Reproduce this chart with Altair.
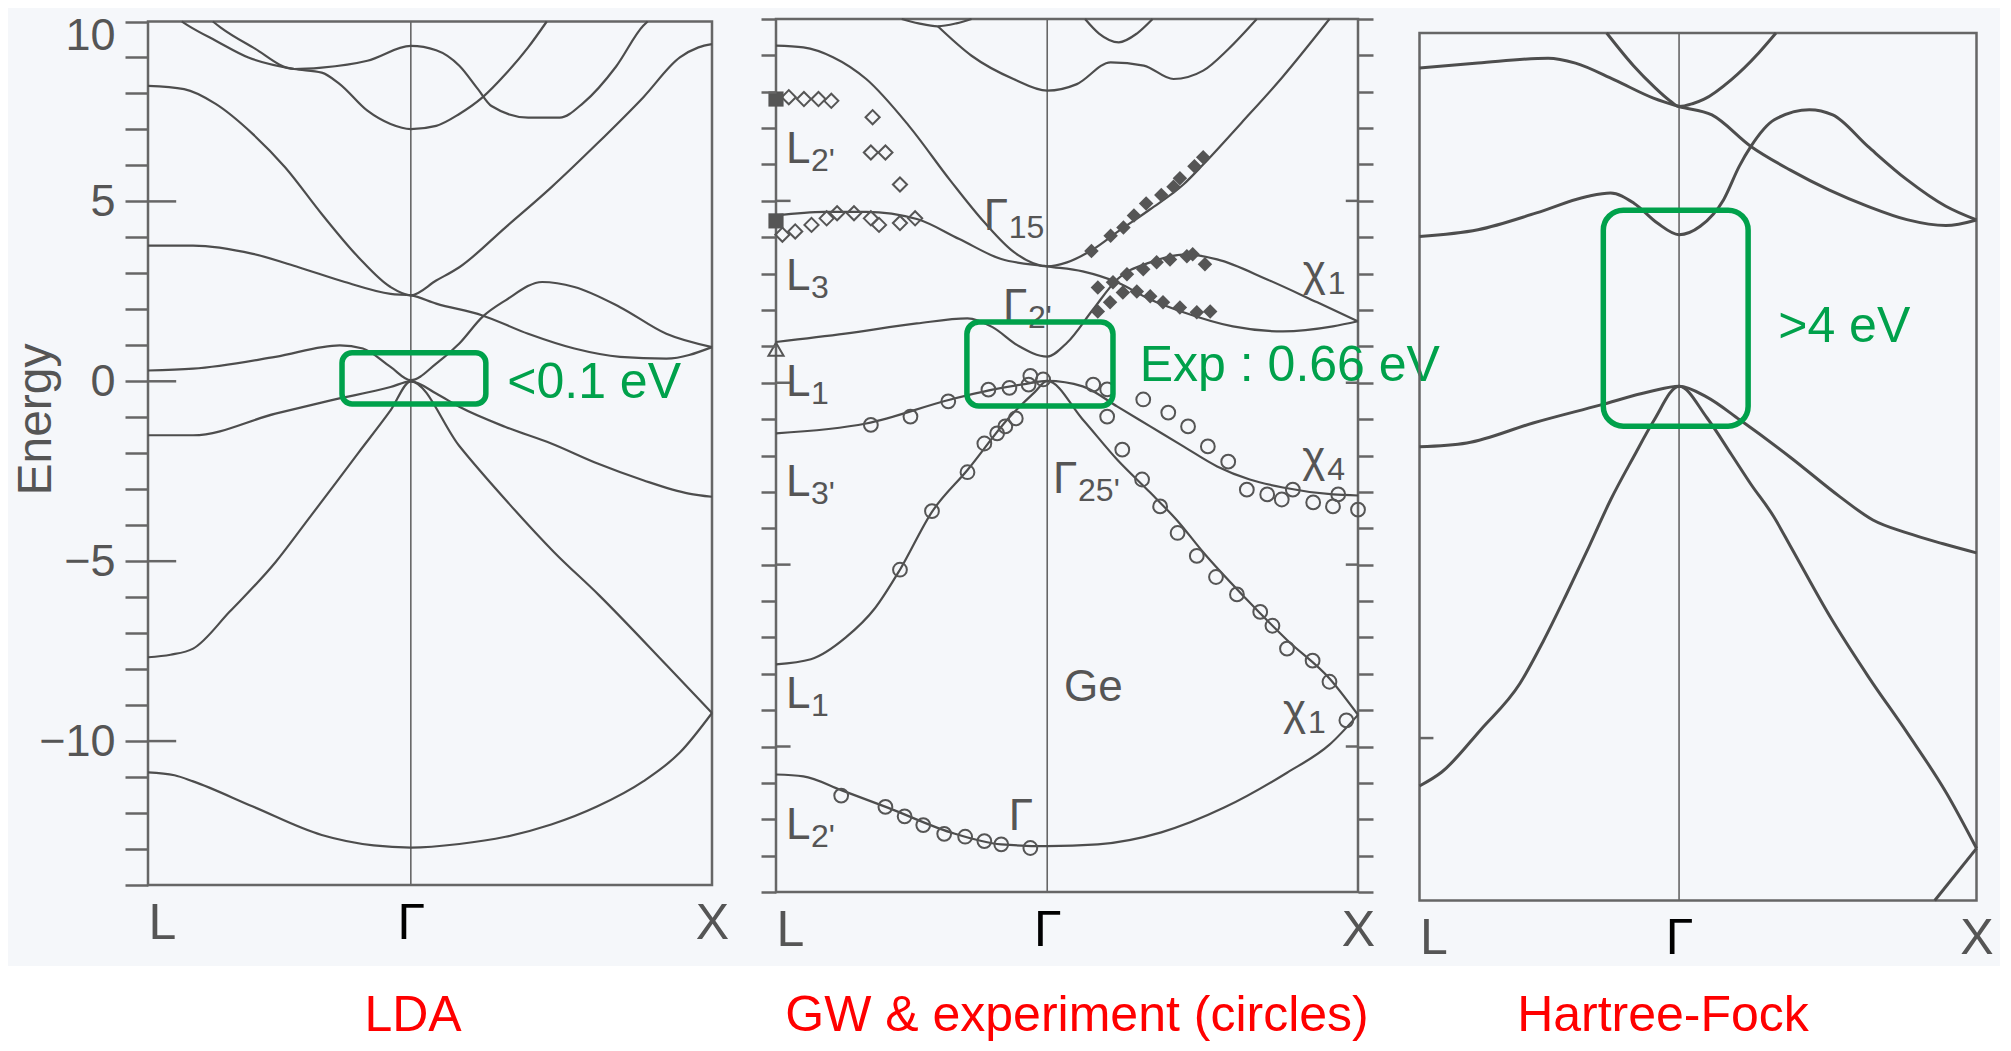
import altair as alt
import pandas as pd

FONT = "Liberation Sans"
GREY = "#555555"
LINE = "#4d4d4d"
FRAME = "#666666"
GREEN = "#00a14b"
RED = "#ff0000"
TINT = "#f5f7fa"
W, H = 1992, 1034

GAMMA = 0.466  # position of Gamma along the L-Gamma-X path (fraction)

# ---------------- LDA bands: (k fraction along L-Γ-X, energy eV) ----------------
LDA_V1 = [(0.0, -10.87), (0.047, -10.95), (0.08, -11.12), (0.186, -11.82), (0.308, -12.61), (0.40, -12.9),
          (0.466, -12.96), (0.552, -12.86), (0.634, -12.66), (0.715, -12.32), (0.796, -11.82), (0.878, -11.12),
          (0.943, -10.32), (1.0, -9.22)]
LDA_V2 = [(0.0, -7.67), (0.04, -7.6), (0.08, -7.43), (0.145, -6.4), (0.226, -5.03), (0.283, -3.86), (0.373, -1.99),
          (0.43, -0.81), (0.466, 0.0), (0.552, -1.8), (0.64, -3.4), (0.72, -4.75), (0.80, -5.95), (0.92, -7.9),
          (1.0, -9.22)]
LDA_V3 = [(0.0, -1.5), (0.08, -1.5), (0.226, -0.9), (0.324, -0.53), (0.43, -0.16), (0.466, 0.0), (0.511, -0.34),
          (0.552, -0.71), (0.634, -1.27), (0.715, -1.73), (0.796, -2.28), (0.878, -2.75), (0.959, -3.12), (1.0, -3.21)]
LDA_C1 = [(0.0, 0.3), (0.08, 0.35), (0.226, 0.68), (0.34, 1.0), (0.381, 0.91), (0.43, 0.4), (0.466, 0.03),
          (0.511, 0.49), (0.552, 1.05), (0.593, 1.79), (0.634, 2.25), (0.699, 2.76), (0.756, 2.62), (0.837, 2.06),
          (0.919, 1.32), (1.0, 0.95)]
LDA_C2 = [(0.0, 3.77), (0.08, 3.77), (0.186, 3.54), (0.267, 3.17), (0.349, 2.76), (0.43, 2.43), (0.466, 2.39),
          (0.511, 2.16), (0.593, 1.83), (0.674, 1.32), (0.756, 0.91), (0.837, 0.68), (0.919, 0.63), (1.0, 0.95)]
LDA_C3 = [(0.0, 8.21), (0.064, 8.12), (0.12, 7.71), (0.186, 6.87), (0.243, 5.95), (0.308, 4.65), (0.373, 3.45),
          (0.43, 2.62), (0.466, 2.39), (0.511, 2.8), (0.552, 3.17), (0.634, 4.28), (0.715, 5.39), (0.796, 6.6),
          (0.878, 7.89), (0.943, 9.0), (0.976, 9.28), (1.0, 9.37)]
LDA_C4 = [(0.06, 10.0), (0.072, 9.88), (0.121, 9.46), (0.178, 9.0), (0.259, 8.68), (0.308, 8.58), (0.34, 8.26),
          (0.389, 7.52), (0.43, 7.15), (0.466, 7.01), (0.511, 7.1), (0.552, 7.43), (0.593, 7.89), (0.634, 8.54),
          (0.674, 9.28), (0.707, 10.0)]
LDA_C5 = [(0.115, 10.0), (0.129, 9.83), (0.186, 9.28), (0.259, 8.68), (0.308, 8.72), (0.389, 8.91), (0.466, 9.32),
          (0.511, 9.2), (0.552, 8.77), (0.585, 8.12), (0.609, 7.65), (0.674, 7.33), (0.73, 7.33), (0.772, 7.74),
          (0.83, 8.75), (0.878, 9.88), (0.886, 10.0)]

# ---------------- GW bands ----------------
GW_V1 = [(0.0, -10.77), (0.047, -10.82), (0.112, -11.2), (0.192, -11.68), (0.3, -12.36), (0.387, -12.69),
         (0.466, -12.74), (0.553, -12.69), (0.662, -12.36), (0.77, -11.68), (0.878, -10.72), (0.951, -9.95),
         (1.0, -9.13)]
GW_V2 = [(0.0, -7.74), (0.06, -7.6), (0.12, -7.0), (0.17, -6.2), (0.213, -5.14), (0.268, -3.55), (0.329, -2.4),
         (0.401, -0.95), (0.445, -0.25), (0.466, 0.05), (0.527, -1.01), (0.586, -2.11), (0.643, -3.02),
         (0.69, -3.8), (0.734, -4.66), (0.806, -5.91), (0.878, -7.07), (0.951, -8.13), (1.0, -9.13)]
GW_V3 = [(0.0, -1.39), (0.155, -1.12), (0.3, -0.46), (0.372, -0.19), (0.43, -0.03), (0.466, 0.05), (0.527, -0.1),
         (0.586, -0.65), (0.643, -1.2), (0.7, -1.75), (0.758, -2.3), (0.814, -2.66), (0.871, -2.88), (0.957, -3.07),
         (1.0, -3.1)]
GW_C1 = [(0.0, 1.12), (0.119, 1.35), (0.242, 1.63), (0.329, 1.77), (0.372, 1.53), (0.416, 1.02), (0.466, 0.72),
         (0.5, 1.1), (0.545, 2.02), (0.586, 2.84), (0.643, 3.31), (0.706, 3.53), (0.758, 3.39), (0.844, 2.84),
         (0.93, 2.21), (1.0, 1.69)]
GW_C2 = [(0.0, 4.6), (0.083, 4.7), (0.155, 4.7), (0.242, 4.5), (0.315, 3.95), (0.387, 3.4), (0.466, 3.2),
         (0.527, 3.06), (0.586, 2.76), (0.643, 2.29), (0.7, 1.94), (0.785, 1.55), (0.871, 1.41), (0.957, 1.55),
         (1.0, 1.69)]
GW_C3 = [(0.0, 9.27), (0.047, 9.22), (0.098, 8.95), (0.155, 8.35), (0.228, 7.07), (0.3, 5.55), (0.358, 4.41),
         (0.409, 3.59), (0.466, 3.2), (0.5, 3.31), (0.545, 3.67), (0.586, 4.14), (0.643, 4.77), (0.7, 5.45),
         (0.734, 6.0), (0.8, 7.15), (0.87, 8.4), (0.951, 10.0)]
GW_C4 = [(0.278, 9.8), (0.336, 8.99), (0.408, 8.35), (0.466, 8.03), (0.517, 8.21), (0.575, 8.81), (0.632, 8.72),
         (0.683, 8.35), (0.734, 8.58), (0.777, 9.17), (0.826, 10.0)]
GW_C5 = [(0.216, 10.0), (0.245, 9.88), (0.278, 9.8), (0.31, 9.88), (0.336, 10.0)]
GW_C6 = [(0.531, 10.0), (0.555, 9.6), (0.589, 9.36), (0.62, 9.6), (0.647, 10.0)]

# experiment (photoemission) points in the GW panel
GW_EXP_CIRCLES = [
    (0.112, -11.35), (0.188, -11.66), (0.221, -11.92), (0.253, -12.16), (0.289, -12.4), (0.325, -12.48),
    (0.358, -12.6), (0.387, -12.69), (0.437, -12.79),
    (0.213, -5.14), (0.268, -3.53), (0.329, -2.46), (0.358, -1.67), (0.38, -1.39), (0.394, -1.2), (0.412, -0.98),
    (0.163, -1.16), (0.231, -0.93), (0.296, -0.51), (0.365, -0.19), (0.401, -0.14), (0.434, -0.05), (0.459, 0.09),
    (0.437, 0.19),
    (0.569, -0.93), (0.595, -1.84), (0.629, -2.66), (0.660, -3.40), (0.69, -4.13), (0.723, -4.76), (0.756, -5.34),
    (0.792, -5.82), (0.832, -6.3), (0.853, -6.68), (0.878, -7.31), (0.922, -7.64), (0.951, -8.22), (0.98, -9.28),
    (0.545, -0.05), (0.569, -0.18), (0.631, -0.46), (0.674, -0.82), (0.708, -1.2), (0.742, -1.75), (0.777, -2.17),
    (0.809, -2.94), (0.844, -3.07), (0.869, -3.21), (0.888, -2.94), (0.923, -3.29), (0.957, -3.4), (0.966, -3.07),
    (1.0, -3.49)]
GW_EXP_OPEN_DIAMONDS = [
    (0.022, 7.85), (0.048, 7.8), (0.073, 7.8), (0.095, 7.75), (0.166, 7.3), (0.163, 6.33), (0.188, 6.33),
    (0.213, 5.45), (0.011, 4.07), (0.033, 4.16), (0.061, 4.34), (0.087, 4.52), (0.105, 4.66), (0.134, 4.66),
    (0.163, 4.52), (0.177, 4.34), (0.213, 4.39), (0.239, 4.52)]
GW_EXP_FILLED_DIAMONDS = [
    (0.542, 3.62), (0.575, 4.04), (0.597, 4.27), (0.615, 4.6), (0.636, 4.93), (0.662, 5.16), (0.683, 5.39),
    (0.694, 5.62), (0.719, 5.95), (0.734, 6.2),
    (0.553, 2.62), (0.579, 2.76), (0.603, 2.98), (0.631, 3.12), (0.654, 3.31), (0.677, 3.39), (0.706, 3.48),
    (0.716, 3.53), (0.737, 3.26),
    (0.553, 1.96), (0.574, 2.21), (0.596, 2.48), (0.62, 2.51), (0.643, 2.38), (0.665, 2.21), (0.694, 2.07),
    (0.723, 1.94), (0.746, 1.96)]
GW_EXP_SQUARES = [(0.0, 7.8), (0.0, 4.45)]
GW_EXP_TRIANGLES = [(0.0, 0.92)]

# ---------------- Hartree-Fock bands ----------------
HF_T1 = [(0.0, 9.14), (0.105, 9.28), (0.231, 9.42), (0.28, 9.28), (0.35, 8.8), (0.42, 8.28), (0.466, 8.04),
         (0.525, 7.8), (0.595, 6.9), (0.665, 6.23), (0.735, 5.66), (0.805, 5.19), (0.875, 4.81), (0.945, 4.64),
         (1.0, 4.8)]
HF_P = [(0.336, 10.14), (0.385, 9.19), (0.42, 8.62), (0.45, 8.2), (0.466, 8.04), (0.49, 8.12), (0.511, 8.25),
        (0.56, 8.81), (0.609, 9.57), (0.64, 10.14)]
HF_CB = [(0.0, 4.33), (0.105, 4.52), (0.21, 5.0), (0.301, 5.47), (0.343, 5.57), (0.385, 5.28), (0.427, 4.71),
         (0.466, 4.38), (0.504, 4.62), (0.546, 5.38), (0.574, 6.33), (0.595, 6.9), (0.637, 7.66), (0.7, 7.95),
         (0.742, 7.8), (0.805, 6.9), (0.875, 5.95), (0.945, 5.19), (1.0, 4.8)]
HF_VC = [(0.0, -1.68), (0.085, -1.57), (0.204, -1.0), (0.324, -0.49), (0.414, -0.1), (0.466, 0.05), (0.516, -0.26),
         (0.575, -0.91), (0.665, -1.97), (0.755, -3.11), (0.814, -3.77), (0.875, -4.14), (0.94, -4.45), (1.0, -4.71)]
HF_VB = [(0.0, -11.37), (0.04, -10.97), (0.11, -9.76), (0.18, -8.45), (0.222, -7.24), (0.263, -5.92),
         (0.305, -4.51), (0.343, -3.2), (0.385, -1.95), (0.42, -0.95), (0.466, 0.05), (0.516, -0.85), (0.56, -1.9),
         (0.595, -2.75), (0.635, -3.65), (0.667, -4.55), (0.737, -6.53), (0.806, -8.25), (0.876, -9.86),
         (0.946, -11.57), (1.0, -13.15)]
HF_V1 = [(0.925, -14.64), (1.0, -13.15)]

# ---------------- axis values / labels ----------------
ENERGY_TICKS = list(range(-14, 11))
MAJOR_TICKS = [-10, -5, 0, 5]
K_POINTS = [0.0, GAMMA, 1.0]

# in-panel labels of the GW figure: main symbol, subscript, k, E (baseline)
GW_LAB_MAIN = ["L", "L", "L", "L", "Γ", "Γ", "Γ", "χ", "χ", "L", "L", "Γ", "Ge", "χ"]
GW_LAB_SUB = ["2'", "3", "1", "3'", "15", "2'", "25'", "1", "4", "1", "2'", "", "", "1"]
GW_LAB_K = [0.017, 0.017, 0.017, 0.017, 0.357, 0.39, 0.476, 0.905, 0.904, 0.017, 0.017, 0.40, 0.495, 0.871]
GW_LAB_E = [6.04, 2.55, -0.36, -3.11, 4.2, 1.72, -3.03, 2.67, -2.45, -8.94, -12.54, -12.3, -8.75, -9.4]

# green highlight boxes (k0, k1, E_low, E_high) and their captions
BOX_LDA = (0.344, 0.599, -0.63, 0.79)
BOX_GW = (0.328, 0.579, -0.64, 1.67)
BOX_HF = (0.33, 0.59, -1.09, 5.08)
CAPTIONS = {"LDA": ("<0.1 eV", 0.637, -0.46), "GW": ("Exp : 0.66 eV", 0.625, 0.05), "HF": (">4 eV", 0.644, 1.32)}
TITLES = {"LDA": ("LDA", 405, 1023), "GW": ("GW & experiment (circles)", 1069, 1023),
          "HF": ("Hartree-Fock", 1655, 1023)}

# ---------------- panel geometry (pixels inside the svg) ----------------
GEOM = {
    "LDA": dict(x0=140, x1=704, ytop=13.5, ybot=877.0, emin=-14.0, emax=10.0),
    "GW": dict(x0=768, x1=1350, ytop=11.0, ybot=884.0, emin=-14.0, emax=10.0),
    "HF": dict(x0=1411.5, x1=1968.5, ytop=25.0, ybot=892.5, emin=-14.64, emax=10.14),
}


def xsc(p):
    g = GEOM[p]
    return alt.Scale(domain=[0, 1], range=[g["x0"], g["x1"]], nice=False, zero=False)


def ysc(p):
    g = GEOM[p]
    return alt.Scale(domain=[g["emin"], g["emax"]], range=[g["ybot"], g["ytop"]], nice=False, zero=False)


def k_axis(p):
    g = GEOM[p]
    return alt.Axis(
        orient="bottom", offset=-(H - g["ybot"]), values=K_POINTS, zindex=2,
        labelExpr="datum.value < 0.1 ? 'L' : (datum.value > 0.9 ? 'X' : 'Γ\u00a0')",
        labelColor={"condition": {"test": "datum.value > 0.1 && datum.value < 0.9", "value": "#000000"},
                    "value": GREY},
        labelAlign={"condition": {"test": "datum.value < 0.1", "value": "left"}, "value": "center"},
        labelFontSize=50, labelFont=FONT, labelPadding=13, labelBaseline="top",
        labelFlush=False, labelOverlap=False, ticks=False, domain=False, grid=False, title=None)


def tick_axis(orient, offset, labels=False, **kw):
    return alt.Axis(orient=orient, offset=offset, values=ENERGY_TICKS, labels=labels, zindex=2,
                    tickSize=kw.pop("tickSize", 15), tickWidth=2.5, tickColor=FRAME,
                    domain=False, grid=False, labelOverlap=False, **kw)


def frame(p, xaxis, yaxis):
    g = GEOM[p]
    df = pd.DataFrame({"k": [0.0], "k2": [1.0], "E": [g["emin"]], "E2": [g["emax"]]})
    return alt.Chart(df).mark_rect(fillOpacity=0, stroke=FRAME, strokeWidth=2.5).encode(
        x=alt.X("k:Q", scale=xsc(p), axis=xaxis), x2="k2:Q",
        y=alt.Y("E:Q", scale=ysc(p), axis=yaxis), y2="E2:Q")


def gamma_rule(p):
    g = GEOM[p]
    df = pd.DataFrame({"k": [GAMMA], "E": [g["emin"]], "E2": [g["emax"]]})
    return alt.Chart(df).mark_rule(color=FRAME, strokeWidth=1.6).encode(
        x=alt.X("k:Q", scale=xsc(p), axis=None),
        y=alt.Y("E:Q", scale=ysc(p), axis=None), y2="E2:Q")


def inner_ticks(p, k0, k1, values, yaxis=None):
    df = pd.DataFrame({"k": [k0] * len(values), "k2": [k1] * len(values), "E": values})
    return alt.Chart(df).mark_rule(color=FRAME, strokeWidth=2.5).encode(
        x=alt.X("k:Q", scale=xsc(p), axis=None), x2="k2:Q",
        y=alt.Y("E:Q", scale=ysc(p), axis=yaxis))


def bands(p, named, width):
    rows = [dict(band=n, k=k, E=e) for n, pts in named.items() for k, e in pts]
    return alt.Chart(pd.DataFrame(rows)).mark_line(
        interpolate="monotone", color=LINE, strokeWidth=width).encode(
        x=alt.X("k:Q", scale=xsc(p), axis=None),
        y=alt.Y("E:Q", scale=ysc(p), axis=None),
        detail="band:N")


def points(p, pts, shape, filled, size, sw=2.0):
    df = pd.DataFrame(pts, columns=["k", "E"])
    return alt.Chart(df).mark_point(shape=shape, filled=filled, size=size, color=GREY,
                                    strokeWidth=sw, opacity=1).encode(
        x=alt.X("k:Q", scale=xsc(p), axis=None),
        y=alt.Y("E:Q", scale=ysc(p), axis=None))


def texts(p, df, size, color, dx=0, dy=0):
    return alt.Chart(df).mark_text(font=FONT, fontSize=size, color=color, align="left",
                                   baseline="alphabetic", dx=dx, dy=dy).encode(
        x=alt.X("k:Q", scale=xsc(p), axis=None),
        y=alt.Y("E:Q", scale=ysc(p), axis=None),
        text="t:N")


def box(p, b, radius):
    df = pd.DataFrame({"k": [b[0]], "k2": [b[1]], "E": [b[2]], "E2": [b[3]]})
    return alt.Chart(df).mark_rect(fillOpacity=0, stroke=GREEN, strokeWidth=5.5, cornerRadius=radius).encode(
        x=alt.X("k:Q", scale=xsc(p), axis=None), x2="k2:Q",
        y=alt.Y("E:Q", scale=ysc(p), axis=None), y2="E2:Q")


def caption(p):
    t, k, e = CAPTIONS[p]
    return texts(p, pd.DataFrame({"t": [t], "k": [k], "E": [e]}), 50, GREEN)


def title(p):
    t, x, y = TITLES[p]
    return alt.Chart(pd.DataFrame({"t": [t]})).mark_text(
        font=FONT, fontSize=50, color=RED, align="center", baseline="alphabetic").encode(
        x=alt.value(x), y=alt.value(y), text="t:N")


# faint tint of the scanned figures behind the three panels
tint = alt.Chart(pd.DataFrame({"t": [0]})).mark_rect(color=TINT).encode(
    x=alt.value(0), x2=alt.value(W), y=alt.value(0), y2=alt.value(958))

lda_y_axis = tick_axis(
    "left", -GEOM["LDA"]["x0"], labels=True, tickSize=23,
    labelExpr="datum.value % 5 === 0 ? datum.label : ''",
    labelFontSize=45, labelFont=FONT, labelColor=GREY, labelPadding=10,
    labelFlush=True, labelFlushOffset=8,
    title="Energy", titleFont=FONT, titleFontSize=48, titleFontWeight="normal", titleColor=GREY,
    titleX=-112, titleY=411, titleAlign="center", titleBaseline="middle")

layers = [
    tint,
    # ---- LDA ----
    frame("LDA", k_axis("LDA"), lda_y_axis),
    gamma_rule("LDA"),
    inner_ticks("LDA", 0.0, 0.05, MAJOR_TICKS),
    bands("LDA", {"v1": LDA_V1, "v2": LDA_V2, "v3": LDA_V3, "c1": LDA_C1, "c2": LDA_C2,
                  "c3": LDA_C3, "c4": LDA_C4, "c5": LDA_C5}, 2.2),
    box("LDA", BOX_LDA, 10),
    caption("LDA"),
    title("LDA"),
    # ---- GW ----
    frame("GW", k_axis("GW"), tick_axis("left", -GEOM["GW"]["x0"], title=None)),
    gamma_rule("GW"),
    inner_ticks("GW", 0.0, 0.025, MAJOR_TICKS),
    inner_ticks("GW", 0.979, 1.0, MAJOR_TICKS,
                yaxis=tick_axis("right", -(W - GEOM["GW"]["x1"]), title=None)),
    bands("GW", {"v1": GW_V1, "v2": GW_V2, "v3": GW_V3, "c1": GW_C1, "c2": GW_C2, "c3": GW_C3,
                 "c4": GW_C4, "c5": GW_C5, "c6": GW_C6}, 2.2),
    points("GW", GW_EXP_CIRCLES, "circle", False, 190),
    points("GW", GW_EXP_OPEN_DIAMONDS, "diamond", False, 200),
    points("GW", GW_EXP_FILLED_DIAMONDS, "diamond", True, 210),
    points("GW", GW_EXP_SQUARES, "square", True, 230),
    points("GW", GW_EXP_TRIANGLES, "triangle-up", False, 230),
    texts("GW", pd.DataFrame({"t": GW_LAB_MAIN, "k": GW_LAB_K, "E": GW_LAB_E}), 44, GREY),
    texts("GW", pd.DataFrame({"t": GW_LAB_SUB, "k": GW_LAB_K, "E": GW_LAB_E}), 32, GREY, dx=25, dy=8),
    box("GW", BOX_GW, 12),
    caption("GW"),
    title("GW"),
    # ---- Hartree-Fock ----
    frame("HF", k_axis("HF"), None),
    gamma_rule("HF"),
    inner_ticks("HF", 0.0, 0.025, [-10]),
    bands("HF", {"t1": HF_T1, "p": HF_P, "cb": HF_CB, "vc": HF_VC, "vb": HF_VB, "v1": HF_V1}, 3.0),
    box("HF", BOX_HF, 20),
    caption("HF"),
    title("HF"),
]

chart = alt.layer(*layers).resolve_scale(x="independent", y="independent").properties(
    width=W, height=H, autosize=alt.AutoSizeParams(type="none"), padding=0,
    background="white",
).configure_view(strokeWidth=0)

chart.save("out.html", embed_options={"renderer": "svg", "actions": False})
